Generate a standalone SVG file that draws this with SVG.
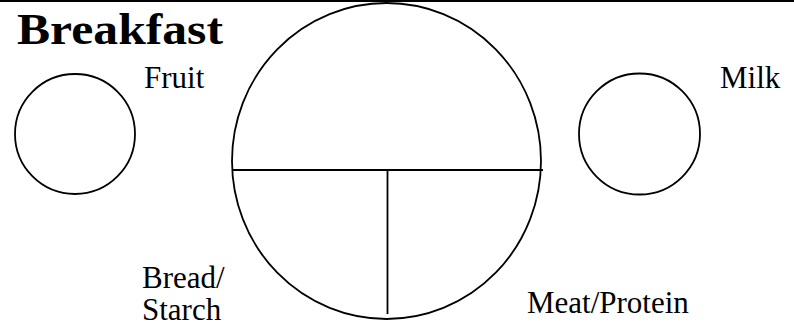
<svg xmlns="http://www.w3.org/2000/svg" width="794" height="333" viewBox="0 0 794 333">
<style>
.s{fill:none;stroke:#000;stroke-width:1.8}
.t{font-family:"Liberation Serif","Times New Roman",serif;font-size:31px;fill:#000}
.h{font-family:"Liberation Serif","Times New Roman",serif;font-size:45px;font-weight:bold;fill:#000}
</style>
<rect width="794" height="333" fill="#fff"/>
<line x1="0" y1="1" x2="794" y2="1" stroke="#000" stroke-width="2.2"/>
<g id="title"><text class="h" x="17" y="44" textLength="206" lengthAdjust="spacingAndGlyphs">Breakfast</text></g>
<g id="fruit">
<circle class="s" cx="75" cy="134" r="60"/>
<text class="t" x="144" y="88">Fruit</text>
</g>
<g id="milk">
<circle class="s" cx="639.5" cy="134" r="60.5"/>
<text class="t" x="720" y="88">Milk</text>
</g>
<g id="plate">
<ellipse class="s" cx="386.5" cy="161" rx="154.5" ry="158"/>
</g>
<g id="dividers">
<line class="s" x1="232" y1="170" x2="543" y2="170"/>
<line class="s" x1="387.5" y1="170" x2="387.5" y2="314"/>
</g>
<g id="bread"><text class="t" x="142" y="288">Bread/</text><text class="t" x="142" y="320">Starch</text></g>
<g id="meat"><text class="t" x="527" y="313">Meat/Protein</text></g>
</svg>
